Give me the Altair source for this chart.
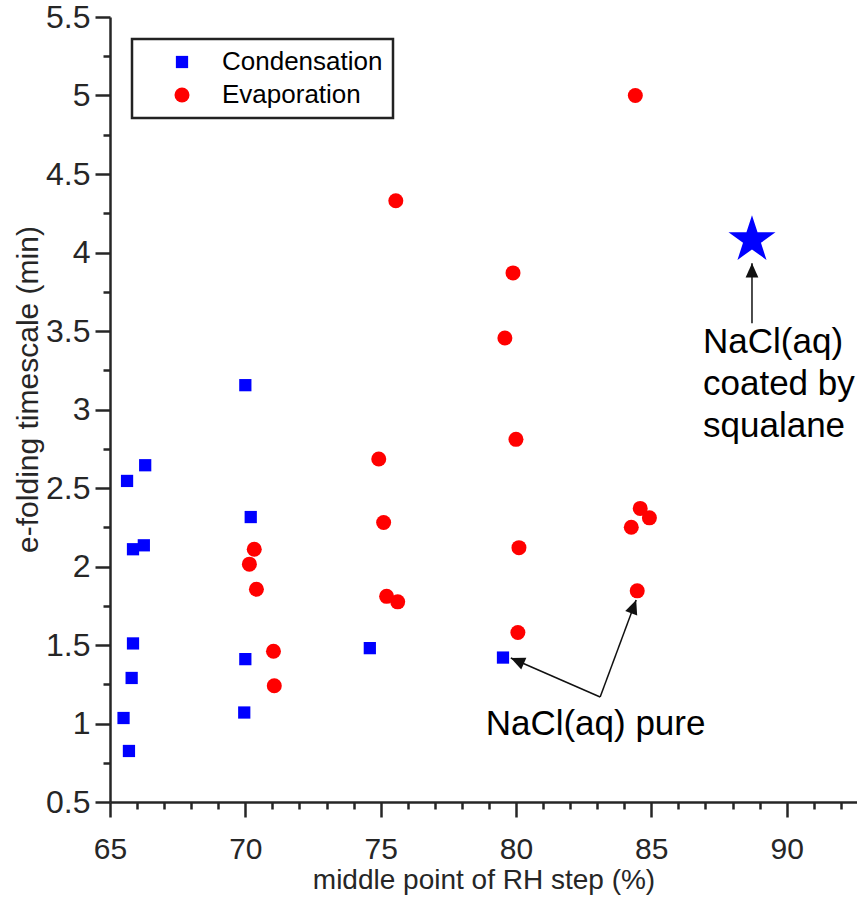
import math
import altair as alt
import pandas as pd

# ---------------- data ----------------
series_names = ["Condensation", "Evaporation"]

cond_x = [65.50, 65.70, 65.80, 65.85, 65.85, 66.25, 65.63, 66.30, 70.00, 70.20, 70.00, 69.96, 74.60, 79.52]
cond_y = [1.035, 0.825, 1.29, 1.51, 2.11, 2.135, 2.545, 2.645, 3.155, 2.315, 1.41, 1.07, 1.48, 1.42]

evap_x = [84.41, 75.56, 79.89, 79.59, 80.00, 80.11, 80.07, 84.48, 84.26, 84.59, 84.93,
          74.93, 75.11, 75.22, 75.63, 70.15, 70.33, 70.41, 71.04, 71.07]
evap_y = [5.00, 4.33, 3.87, 3.455, 2.81, 2.12, 1.58, 1.845, 2.25, 2.37, 2.31,
          2.685, 2.28, 1.81, 1.775, 2.015, 2.11, 1.855, 1.46, 1.24]

star_x = [88.72]
star_y = [4.08]

# annotation arrows (start -> tip)
arrow_x0 = [88.72, 83.11, 83.11]
arrow_y0 = [3.55, 1.169, 1.169]
arrow_x1 = [88.72, 79.81, 84.44]
arrow_y1 = [3.931, 1.417, 1.787]

label_pure = ["NaCl(aq) pure"]
label_pure_x = [82.94]
label_pure_y = [0.925]

label_coated = [["NaCl(aq)", "coated by", "squalane"]]
label_coated_x = [86.91]
label_coated_y = [3.358]

x_ticks = list(range(65, 93))
y_ticks = [0.5 + 0.25 * i for i in range(21)]
x_domain = [65, 92.6]
y_domain = [0.5, 5.5]

x_title = "middle point of RH step (%)"
y_title = "e-folding timescale (min)"

# ---------------- layout ----------------
W, H = 747, 785
FONT = "Liberation Sans"
AX = "#262626"

xaxis = alt.Axis(
    values=x_ticks,
    labelExpr="datum.value % 5 === 0 ? datum.label : ''",
    tickSize={"condition": {"test": "datum.value % 5 === 0", "value": 15}, "value": 7},
    labelFontSize=30, labelPadding=17, labelFlush=False, labelOverlap=False,
    labelColor=AX, labelFont=FONT,
    titleFontSize=28, titleFont=FONT, titleColor=AX, titleFontWeight="normal",
    titleY=86, titleBaseline="alphabetic",
    domainColor=AX, domainWidth=2.5, tickColor=AX, tickWidth=2.5, grid=False,
)
yaxis = alt.Axis(
    values=y_ticks,
    labelExpr="datum.value % 0.5 === 0 ? format(datum.value, '~g') : ''",
    tickSize={"condition": {"test": "datum.value % 0.5 === 0", "value": 15}, "value": 7},
    labelFontSize=32, labelPadding=5, labelFlush=False, labelOverlap=False,
    labelColor=AX, labelFont=FONT,
    titleFontSize=30, titleFont=FONT, titleColor=AX, titleFontWeight="normal",
    titleX=-73, titleY=372, titleBaseline="alphabetic",
    domainColor=AX, domainWidth=2.5, tickColor=AX, tickWidth=2.5, grid=False,
)
xscale = alt.Scale(domain=x_domain, nice=False, zero=False)
yscale = alt.Scale(domain=y_domain, nice=False, zero=False)


def X(f):
    return alt.X(f, type="quantitative", scale=xscale, axis=xaxis, title=x_title)


def Y(f):
    return alt.Y(f, type="quantitative", scale=yscale, axis=yaxis, title=y_title)


pts = pd.DataFrame({
    "x": cond_x + evap_x,
    "y": cond_y + evap_y,
    "series": [series_names[0]] * len(cond_x) + [series_names[1]] * len(evap_x),
})

legend = alt.Legend(
    title=None, orient="none", legendX=22, legendY=22,
    padding=10, symbolOffset=27, labelOffset=27, rowPadding=7,
    labelFontSize=26, labelFont=FONT, labelColor="#000000", labelLimit=400,
    symbolStrokeWidth=0, strokeColor="#222222", fillColor="#ffffff",
)

points = alt.Chart(pts).mark_point(filled=True, opacity=1, strokeWidth=0).encode(
    x=X("x"), y=Y("y"),
    color=alt.Color("series:N", scale=alt.Scale(domain=series_names, range=["#0000ff", "#ff0000"]), legend=legend),
    shape=alt.Shape("series:N", scale=alt.Scale(domain=series_names, range=["square", "circle"]), legend=legend),
    size=alt.Size("series:N", scale=alt.Scale(domain=series_names, range=[150, 225]), legend=legend),
)

STAR = ("M0,-1L0.2245,-0.309L0.951,-0.309L0.363,0.118L0.588,0.809L0,0.382"
        "L-0.588,0.809L-0.363,0.118L-0.951,-0.309L-0.2245,-0.309Z")
star = alt.Chart(pd.DataFrame({"x": star_x, "y": star_y})).mark_point(
    filled=True, opacity=1, shape=STAR, size=2440, color="#0000ff", strokeWidth=0
).encode(x=X("x"), y=Y("y"))

# arrows
kx = W / (x_domain[1] - x_domain[0])
ky = H / (y_domain[1] - y_domain[0])
angles = [math.degrees(math.atan2((a1 - a0) * kx, (b1 - b0) * ky)) % 360
          for a0, b0, a1, b1 in zip(arrow_x0, arrow_y0, arrow_x1, arrow_y1)]
arr = pd.DataFrame({"x0": arrow_x0, "y0": arrow_y0, "x1": arrow_x1, "y1": arrow_y1, "ang": angles})

lines = alt.Chart(arr).mark_rule(color="#111111", strokeWidth=1.5).encode(
    x=X("x0"), y=Y("y0"), x2="x1", y2="y1"
)
HEAD = "M0,0L0.45,1L-0.45,1Z"
heads = alt.Chart(arr).mark_point(
    filled=True, opacity=1, shape=HEAD, size=800, color="#111111", strokeWidth=0
).encode(x=X("x1"), y=Y("y1"), angle=alt.Angle("ang:Q", scale=None))

txt_pure = alt.Chart(pd.DataFrame({"x": label_pure_x, "y": label_pure_y, "t": label_pure})).mark_text(
    font=FONT, fontSize=35, color="#000000", align="center", baseline="alphabetic"
).encode(x=X("x"), y=Y("y"), text="t:N")

txt_coated = alt.Chart(pd.DataFrame({"x": label_coated_x, "y": label_coated_y, "t": label_coated})).mark_text(
    font=FONT, fontSize=35, color="#000000", align="left", baseline="alphabetic", lineHeight=42
).encode(x=X("x"), y=Y("y"), text="t:N")

chart = alt.layer(lines, heads, txt_pure, txt_coated, points, star).properties(
    width=W, height=H,
    autosize=alt.AutoSizeParams(type="none"),
    padding={"left": 110, "top": 17, "right": 0, "bottom": 98},
    background="#ffffff",
).configure_view(stroke=None).configure_legend(strokeWidth=2.5)

chart.save("out.html", embed_options={"renderer": "svg", "actions": False})
